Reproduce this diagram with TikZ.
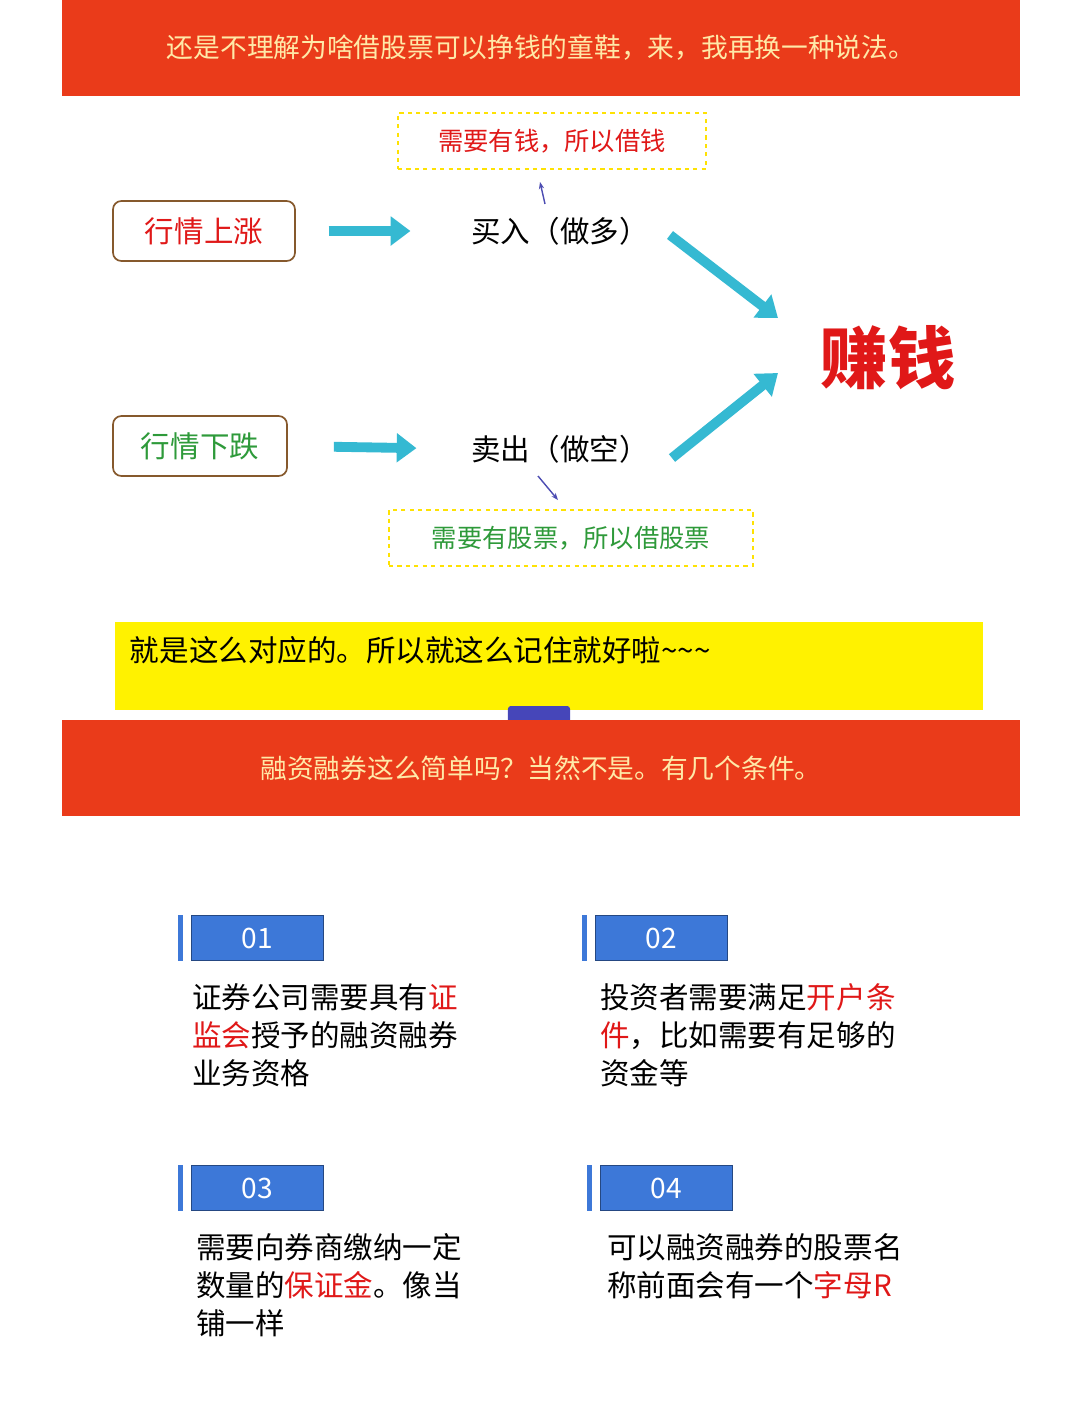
\documentclass[tikz,border=0pt]{standalone}
\usepackage{fontspec}
\setmainfont{Noto Sans CJK SC}
\usetikzlibrary{arrows.meta}
\usetikzlibrary{positioning}
\definecolor{banner}{HTML}{EA3B1A}
\definecolor{bannertext}{HTML}{FFE9A8}
\definecolor{flowcyan}{HTML}{35B9D2}
\definecolor{tabblue}{HTML}{3D78D8}
\definecolor{textred}{HTML}{E01818}
\definecolor{textgreen}{HTML}{2E9A3A}
\tikzset{
  bannerbox/.style={fill=banner,draw=none,minimum width=23.95cm,minimum height=2.4cm,text=bannertext,font=\fontsize{19}{19}\selectfont},
  marketbox/.style={draw=brown!70!black,rounded corners=6pt,line width=1.2pt,minimum height=1.5cm,font=\fontsize{21}{21}\selectfont},
  borrowbox/.style={draw=yellow!85!orange,dashed,line width=1.5pt,minimum height=1.4cm,font=\fontsize{18}{18}\selectfont},
  flowarrow/.style={draw=flowcyan!80!black,line width=7pt,-{Triangle[length=14pt,width=20pt]},flowcyan},
  hintarrow/.style={draw=blue!40!gray,line width=1pt,-{Stealth[length=5pt]}},
  numtab/.style={fill=tabblue,draw=tabblue!60!black,minimum width=3.3cm,minimum height=1.12cm,inner sep=0pt,text=white,font=\fontsize{20}{20}\selectfont},
  itemtext/.style={anchor=north west,align=left,font=\fontsize{21}{27}\selectfont,inner sep=0pt},
  plain/.style={font=\fontsize{21}{21}\selectfont}
}
\begin{document}
\begin{tikzpicture}[x=0.025cm,y=-0.025cm]
\useasboundingbox (0,0) rectangle (1080,1410);
\fill[white] (0,0) rectangle (1080,1410);
% top part
\node (top) [bannerbox] at (541,48) {还是不理解为啥借股票可以挣钱的童鞋，来，我再换一种说法。};
\node (needcash) [borrowbox,minimum width=7.7cm,text=textred] at (552,141) {需要有钱，所以借钱};
\node (up) [marketbox,minimum width=4.55cm,text=textred] at (204,231) {行情上涨};
\node (buy) [plain] at (560,231) {买入（做多）};
\node (money) [text=textred,font=\fontsize{48}{48}\selectfont\bfseries] at (888,358) {赚钱};
\node (down) [marketbox,minimum width=4.35cm,text=textgreen] at (200,446) {行情下跌};
\node (sell) [plain] at (560,449) {卖出（做空）};
\node (needstock) [borrowbox,minimum width=9.1cm,text=textgreen] at (571,538) {需要有股票，所以借股票};
\coordinate (buyout) at (670,235);
\coordinate (buyin) at (778,318);
\coordinate (sellout) at (672,458);
\coordinate (sellin) at (778,373);
\draw[flowarrow,shorten <=0.82cm,shorten >=1.4cm] (up.east) -- (buy.west);
\draw[flowarrow,shorten <=1.15cm,shorten >=1.25cm] (down.east) -- (sell.west);
\draw[flowarrow] (buyout) -- (buyin);
\draw[flowarrow] (sellout) -- (sellin);
\draw[hintarrow] (buy.north) ++(-15,-8) coordinate (h1) -- ++(-5,-22);
\draw[hintarrow] (sell.south) ++(-22,8) coordinate (h2) -- ++(20,24);
% summary
\node (summary) [fill=yellow,minimum width=21.7cm,minimum height=2.2cm] at (549,666) {};
\node [plain,anchor=west] at (125,650) {就是这么对应的。所以就这么记住就好啦\textasciitilde\textasciitilde\textasciitilde};
\node (tab) [fill=blue!45!gray,rounded corners=2pt,minimum width=1.55cm,minimum height=0.5cm,inner sep=0pt] at (539,716) {};
\node (mid) [bannerbox] at (541,768) {融资融券这么简单吗？当然不是。有几个条件。};
% items
\foreach \n/\x/\y in {01/257/938, 02/661/938, 03/257/1188, 04/666/1188} {
  \node (tab\n) [numtab] at (\x,\y) {\n};
  \fill[tabblue] (\x-79,\y-23) rectangle (\x-74,\y+23);
}
\node (item1) [itemtext] at (192,983) {证券公司需要具有\textcolor{textred}{证}\\\textcolor{textred}{监会}授予的融资融券\\业务资格};
\node (item2) [itemtext] at (600,983) {投资者需要满足\textcolor{textred}{开户条}\\\textcolor{textred}{件}，比如需要有足够的\\资金等};
\node (item3) [itemtext] at (196,1233) {需要向券商缴纳一定\\数量的\textcolor{textred}{保证金}。像当\\铺一样};
\node (item4) [itemtext] at (607,1233) {可以融资融券的股票名\\称前面会有一个\textcolor{textred}{字母R}};
\end{tikzpicture}
\end{document}
